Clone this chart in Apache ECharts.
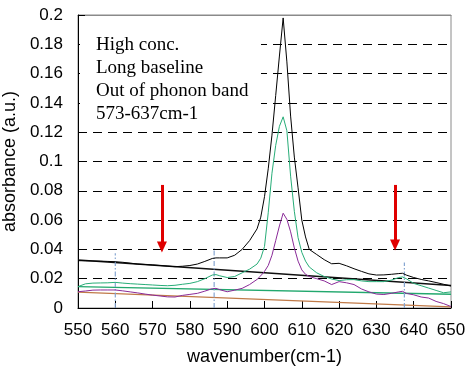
<!DOCTYPE html>
<html>
<head>
<meta charset="utf-8">
<script src="https://cdn.jsdelivr.net/npm/echarts@6/dist/echarts.min.js"></script>
<style>html,body{margin:0;padding:0;background:#fff;}#c{width:475px;height:370px;}</style>
</head>
<body>
<div id="c"></div>
<script>
// ---- data ----
const wavenumber = [550,552,554,556,558,560,562,564,566,568,570,572,574,576,578,580,582,584,586,587,588,590,592,594,596,598,599,600,601,602,603,604,605,606,607,608,609,610,611,612,614,616,618,620,622,624,626,628,630,632,634,636,637,638,640,642,644,646,648,650];
const blackSpectrum = [0.0323,0.0322,0.0321,0.0320,0.0318,0.0316,0.0312,0.0306,0.0300,0.0297,0.0294,0.0290,0.0286,0.0282,0.0285,0.0290,0.0300,0.0318,0.0338,0.0342,0.0342,0.0342,0.0360,0.0400,0.0460,0.0540,0.0620,0.0760,0.0950,0.1180,0.1450,0.1720,0.1980,0.1680,0.1310,0.1030,0.0820,0.0600,0.0485,0.0400,0.0365,0.0330,0.0302,0.0305,0.0288,0.0268,0.0250,0.0233,0.0225,0.0226,0.0230,0.0235,0.0237,0.0225,0.0208,0.0195,0.0185,0.0174,0.0162,0.0150];
const greenSpectrum = [0.0146,0.0165,0.0170,0.0171,0.0172,0.0175,0.0170,0.0166,0.0163,0.0160,0.0157,0.0154,0.0152,0.0155,0.0162,0.0168,0.0180,0.0200,0.0225,0.0228,0.0220,0.0208,0.0215,0.0240,0.0265,0.0300,0.0340,0.0420,0.0650,0.0920,0.1110,0.1240,0.1305,0.1210,0.0900,0.0660,0.0480,0.0380,0.0320,0.0280,0.0240,0.0215,0.0198,0.0187,0.0193,0.0194,0.0185,0.0180,0.0180,0.0180,0.0190,0.0208,0.0212,0.0200,0.0168,0.0152,0.0136,0.0120,0.0104,0.0110];
const purpleSpectrum = [0.0111,0.0116,0.0122,0.0123,0.0123,0.0123,0.0117,0.0110,0.0103,0.0095,0.0088,0.0082,0.0076,0.0075,0.0086,0.0093,0.0100,0.0115,0.0132,0.0134,0.0125,0.0111,0.0122,0.0134,0.0160,0.0195,0.0220,0.0250,0.0290,0.0360,0.0460,0.0560,0.0647,0.0605,0.0520,0.0410,0.0320,0.0260,0.0230,0.0215,0.0200,0.0185,0.0160,0.0180,0.0172,0.0160,0.0130,0.0110,0.0095,0.0092,0.0100,0.0110,0.0114,0.0100,0.0090,0.0075,0.0068,0.0045,0.0030,0.0010];
const baselineX = [550, 650];
const blackBaseline = [0.0328, 0.0154];
const greenBaseline = [0.0146, 0.0094];
const brownBaseline = [0.0108, 0.0008];
const markerX = [560, 586.5, 637.5];
const markerTop = [0.0373, 0.041, 0.031];
const arrowX = [572.5, 635];
const arrowTop = [0.084, 0.084];
const arrowHead = [0.0416, 0.043];
const xTicks = {min: 550, max: 650, step: 10};
const yTicks = {min: 0, max: 0.2, step: 0.02};
const noteLines = ['High conc.', 'Long baseline', 'Out of phonon band', '573-637cm-1'];

// ---- build ----
const zip = (xs, ys) => xs.map((x, i) => [x, ys[i]]);
const lineSeries = (data, color, width) => ({
  type: 'line', data, showSymbol: false, symbol: 'none', animation: false,
  lineStyle: {color, width}, z: 3, silent: true
});
const series = [];
series.push(lineSeries(zip(baselineX, brownBaseline), '#c07a48', 1.2));
series.push(lineSeries(zip(baselineX, greenBaseline), '#22a86e', 1.3));
series.push(lineSeries(zip(baselineX, blackBaseline), '#111', 1.5));
markerX.forEach((x, i) => {
  const s = lineSeries([[x, 0], [x, markerTop[i]]], '#86a6d2', 1.2);
  s.lineStyle.type = [5, 2, 1.5, 2];
  series.push(s);
});
series.push(lineSeries(zip(wavenumber, purpleSpectrum), '#8a2a98', 1));
series.push(lineSeries(zip(wavenumber, greenSpectrum), '#28ad78', 1));
series.push(lineSeries(zip(wavenumber, blackSpectrum), '#000', 1));
series.push({
  type: 'line', data: [], animation: false, silent: true,
  markLine: {
    silent: true, animation: false,
    symbol: ['none', 'triangle'], symbolSize: [10, 11],
    label: {show: false},
    lineStyle: {color: '#e00000', width: 3, type: 'solid'},
    data: arrowX.map((x, i) => [{coord: [x, arrowTop[i]]}, {coord: [x, arrowHead[i]]}])
  }
});

const nY = Math.round((yTicks.max - yTicks.min) / yTicks.step);
const splitColors = [];
for (let i = 0; i <= nY; i++) splitColors.push(i === nY ? 'rgba(0,0,0,0)' : '#000');

const font = '"Liberation Sans", Arial, sans-serif';
const chart = echarts.init(document.getElementById('c'), null, {renderer: 'canvas'});
chart.setOption({
  backgroundColor: '#fff',
  animation: false,
  grid: {left: 78, right: 24, top: 15, bottom: 62, containLabel: false, outerBoundsMode: 'none',
    show: true, borderColor: '#8a8a8a', borderWidth: 1, backgroundColor: 'transparent'},
  xAxis: [{
    type: 'value', min: xTicks.min, max: xTicks.max, interval: xTicks.step,
    name: 'wavenumber(cm-1)', nameLocation: 'middle', nameGap: 40,
    nameTextStyle: {color: '#000', fontSize: 18, fontFamily: font},
    axisLine: {show: true, onZero: false, lineStyle: {color: '#000', width: 1}},
    axisTick: {show: true, inside: true, length: 7, lineStyle: {color: '#000'}},
    axisLabel: {color: '#000', fontSize: 17, fontFamily: font, margin: 14},
    splitLine: {show: false}
  }, {
    type: 'value', position: 'top', min: xTicks.min, max: xTicks.max, interval: xTicks.step,
    axisLine: {show: true, onZero: false, lineStyle: {color: '#8a8a8a', width: 1}},
    axisTick: {show: false}, axisLabel: {show: false}, splitLine: {show: false}
  }],
  yAxis: {
    type: 'value', min: yTicks.min, max: yTicks.max, interval: yTicks.step,
    name: 'absorbance (a.u.)', nameLocation: 'middle', nameGap: 48, nameRotate: 90,
    nameTextStyle: {color: '#000', fontSize: 18, fontFamily: font},
    axisLine: {show: true, onZero: false, lineStyle: {color: '#000', width: 1}},
    axisTick: {show: true, inside: true, length: 7, lineStyle: {color: '#000'}},
    axisLabel: {color: '#000', fontSize: 17, fontFamily: font, margin: 15},
    splitLine: {show: true, lineStyle: {color: splitColors, width: 1, type: [9, 6]}}
  },
  graphic: [
    {type: 'rect', z: 1, silent: true, shape: {x: 80, y: 24, width: 181, height: 100}, style: {fill: '#fff'}}
  ].concat(noteLines.map((t, i) => ({
    type: 'text', z: 5, silent: true, x: 96, y: 45 + i * 23,
    style: {text: t, font: '19px "Liberation Serif", "Times New Roman", serif', fill: '#000', verticalAlign: 'middle'}
  }))),
  series
});
</script>
</body>
</html>
